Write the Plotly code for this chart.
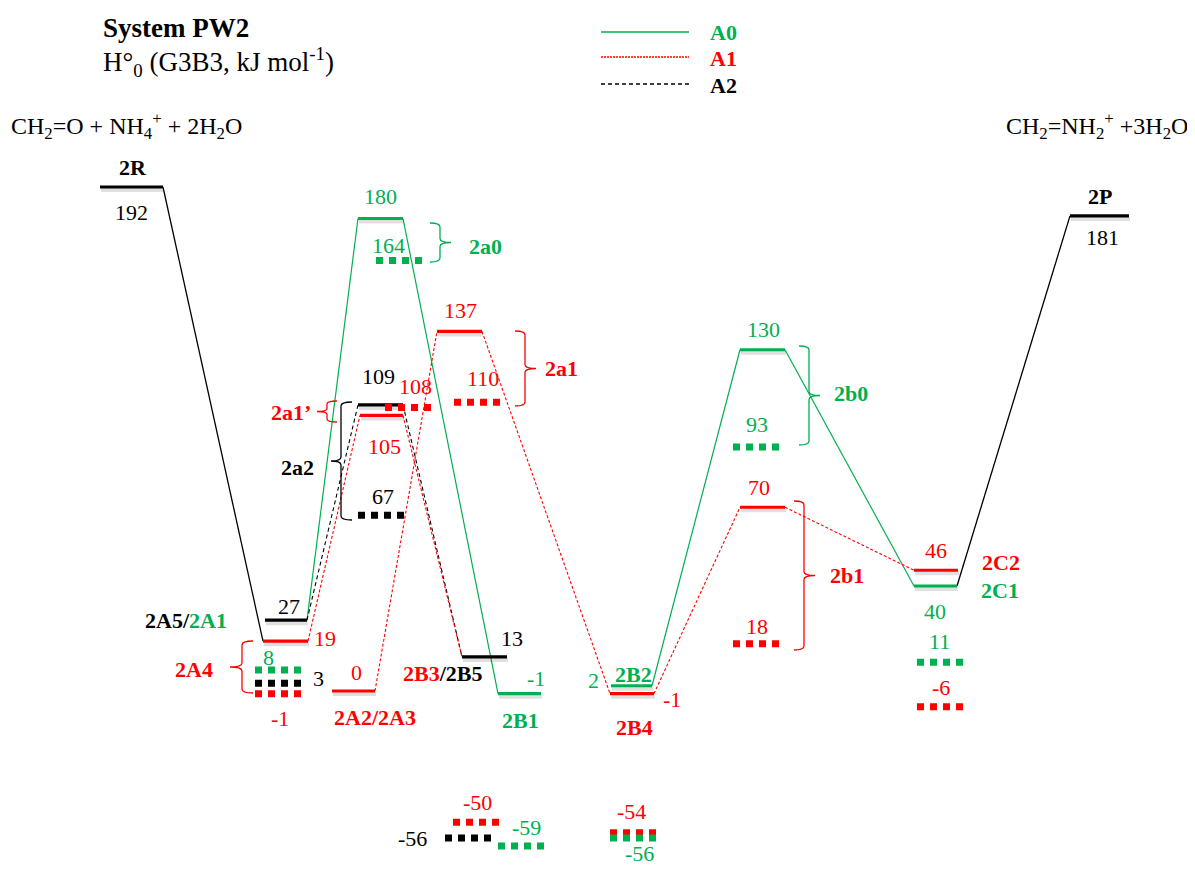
import plotly.graph_objects as go

GREEN = "#00B050"
RED = "#FF0000"
BLACK = "#000000"
FONT = "Liberation Serif, Times New Roman, DejaVu Serif, serif"
COLORS = {"A0": GREEN, "A1": RED, "A2": BLACK, "ref": BLACK}

# solid levels, H0 in kJ/mol
level_ids = ["2R", "2A5", "2A4", "2A2", "TSa0", "TSa2", "TSa1p", "TSa1", "2B3", "2B1",
             "2B2", "2B4", "TSb0", "TSb1", "2C2", "2C1", "2P"]
level_energy = [192, 27, 19, 0, 180, 109, 105, 137, 13, -1, 2, -1, 130, 70, 46, 40, 181]
level_series = ["ref", "A2", "A1", "A1", "A0", "A2", "A1", "A1", "A2", "A0",
                "A0", "A1", "A0", "A1", "A1", "A0", "ref"]

# dotted levels
dot_ids = ["d8", "d3", "dm1", "d164", "d108", "d67", "d110", "dm50", "dm56k", "dm59",
           "dm54", "dm56g", "d93", "d18", "d11", "dm6"]
dot_energy = [8, 3, -1, 164, 108, 67, 110, -50, -56, -59, -54, -56, 93, 18, 11, -6]
dot_series = ["A0", "A2", "A1", "A0", "A1", "A2", "A1", "A1", "A2", "A0",
              "A1", "A0", "A0", "A1", "A0", "A1"]

# reaction paths through the solid levels
path_a0 = [["2A5", "TSa0", "2B1"], ["2B2", "TSb0", "2C1"]]
path_a1 = [["2A4", "TSa1p", "2B3"], ["2A2", "TSa1", "2B4", "TSb1", "2C2"]]
path_a2 = [["2A5", "TSa2", "2B3"]]
path_ref = [["2R", "2A4"], ["2C1", "2P"]]

# ---- layout (horizontal spans in px, label offsets) ----
XSPAN = {
    "2R": (100, 163), "2A5": (265, 307), "2A4": (263, 308), "2A2": (332, 375),
    "TSa0": (358, 403), "TSa2": (358, 403), "TSa1p": (360, 403), "TSa1": (437, 482),
    "2B3": (462, 507), "2B1": (498, 541), "2B2": (611, 652), "2B4": (610, 654),
    "TSb0": (740, 785), "TSb1": (740, 785), "2C2": (914, 958), "2C1": (914, 957),
    "2P": (1070, 1129),
    "d8": (255, 301), "d3": (255, 301), "dm1": (255, 301), "d164": (376, 422),
    "d108": (385, 431), "d67": (358, 404), "d110": (454, 500), "dm50": (453, 499),
    "dm56k": (445, 491), "dm59": (498, 544), "dm54": (610, 656), "dm56g": (610, 656),
    "d93": (733, 779), "d18": (733, 779), "d11": (917, 963), "dm6": (917, 963),
}
# number label: (x centre px, vertical offset px, + = below)
NUMPOS = {
    "2R": (131, 25), "2A5": (289, -14), "2A4": (325, -3), "2A2": (356, -19),
    "TSa0": (380, -22), "TSa2": (378, -28), "TSa1p": (384, 31), "TSa1": (460, -21),
    "2B3": (512, -18), "2B1": (536, -15), "2B2": (593, -5), "2B4": (672, 6),
    "TSb0": (763, -20), "TSb1": (759, -20), "2C2": (936, -20), "2C1": (935, 25),
    "2P": (1102, 22),
    "d8": (268, -13), "d3": (318, -5), "dm1": (280, 25), "d164": (388, -15),
    "d108": (415, -21), "d67": (383, -19), "d110": (483, -24), "dm50": (477, -20),
    "dm56k": (412, 0), "dm59": (526, -18), "dm54": (631, -21), "dm56g": (639, 15),
    "d93": (757, -22), "d18": (757, -17), "d11": (939, -21), "dm6": (941, -19),
}

Y0PX, PXPER = 691.0, 2.625   # pixel row of 0 kJ/mol, px per kJ/mol
PAGE_OFF = 8                  # default body margin of the html page


def ey(py):
    return (Y0PX - py) / PXPER


E = dict(zip(level_ids, level_energy))

fig = go.Figure()


def add_paths(paths, color, dash, width):
    for p in paths:
        xs, ys = [], []
        for a, b in zip(p[:-1], p[1:]):
            xs += [XSPAN[a][1], XSPAN[b][0], None]
            ys += [E[a], E[b], None]
        fig.add_trace(go.Scatter(x=xs, y=ys, mode="lines", hoverinfo="skip",
                                 line=dict(color=color, dash=dash, width=width)))


add_paths(path_ref, BLACK, "solid", 1.3)
add_paths(path_a0, GREEN, "solid", 1.2)
add_paths(path_a2, BLACK, "4px,3px", 1.1)
add_paths(path_a1, RED, "3px,2px", 1.1)

# solid levels with faint shadow
for lid, en, s in zip(level_ids, level_energy, level_series):
    x0, x1 = XSPAN[lid]
    sh = en - 3 / PXPER
    fig.add_trace(go.Scatter(x=[x0 + 1, x1 + 1], y=[sh, sh], mode="lines", hoverinfo="skip",
                             line=dict(color="rgba(0,0,0,0.12)", width=4)))
    fig.add_trace(go.Scatter(x=[x0, x1], y=[en, en], mode="lines", hoverinfo="skip",
                             line=dict(color=COLORS[s], width=3.2)))

# dotted levels (square dots)
for did, en, s in zip(dot_ids, dot_energy, dot_series):
    x0, x1 = XSPAN[did]
    fig.add_trace(go.Scatter(x=[x0, x1], y=[en, en], mode="lines", hoverinfo="skip",
                             line=dict(color=COLORS[s], width=7, dash="7px,6px")))

ann = []


def txt(text, x, y, color=BLACK, size=22, bold=False, xanchor="center", yshift=0):
    if bold:
        text = "<b>" + text + "</b>"
    ann.append(dict(text=text, x=x, y=y, xref="x", yref="y", showarrow=False,
                    xanchor=xanchor, yanchor="middle", yshift=yshift,
                    font=dict(family=FONT, size=size, color=color)))


# numeric labels
for lid, en, s in zip(level_ids, level_energy, level_series):
    x, dy = NUMPOS[lid]
    txt(str(en), x, en, COLORS[s], yshift=-dy)
for did, en, s in zip(dot_ids, dot_energy, dot_series):
    x, dy = NUMPOS[did]
    txt(str(en), x, en, COLORS[s], yshift=-dy)


def g(t):
    return "<span style='color:%s'>%s</span>" % (GREEN, t)


def r(t):
    return "<span style='color:%s'>%s</span>" % (RED, t)


# structure labels (beside their levels)
txt("2R", 133, E["2R"], bold=True, yshift=20)
txt("2P", 1100, E["2P"], bold=True, yshift=19)
txt("2C2", 1001, E["2C2"], RED, bold=True, yshift=8)
txt("2C1", 1000, E["2C1"], GREEN, bold=True, yshift=-4)
txt("2A5/" + g("2A1"), 186, ey(620), bold=True)
txt("2A4", 194, ey(669), RED, bold=True)
txt("2A2/2A3", 375, ey(717), RED, bold=True)
txt("2a0", 485, ey(246), GREEN, bold=True)
txt("2a1", 561, ey(368), RED, bold=True)
txt("2a1’", 291, ey(412), RED, bold=True)
txt("2a2", 297, ey(467), bold=True)
txt(r("2B3") + "/2B5", 442, ey(673), bold=True)
txt("2B1", 520, ey(720), GREEN, bold=True)
txt("2B2", 633, ey(674), GREEN, bold=True)
txt("2B4", 634, ey(727), RED, bold=True)
txt("2b0", 851, ey(393), GREEN, bold=True)
txt("2b1", 847, ey(575), RED, bold=True)

# titles & species
txt("System PW2", 101, ey(28), size=27, bold=True, xanchor="left")
txt("H°<sub>0</sub> (G3B3, kJ mol<sup>-1</sup>)", 101, ey(62), size=27, xanchor="left")
txt("CH<sub>2</sub>=O + NH<sub>4</sub><sup>+</sup> + 2H<sub>2</sub>O", 9, ey(126),
    size=24, xanchor="left")
txt("CH<sub>2</sub>=NH<sub>2</sub><sup>+</sup> +3H<sub>2</sub>O", 1004, ey(126),
    size=24, xanchor="left")

# legend
txt("A0", 708, ey(32), GREEN, bold=True, xanchor="left")
txt("A1", 708, ey(58), RED, bold=True, xanchor="left")
txt("A2", 708, ey(85), BLACK, bold=True, xanchor="left")

shapes = []
for py, col, dash, w in [(32, GREEN, "solid", 1.5), (57, RED, "2px,1px", 1.3),
                         (84, BLACK, "4px,3px", 1.3)]:
    shapes.append(dict(type="line", xref="x", yref="y", x0=601, x1=689, y0=ey(py), y1=ey(py),
                       line=dict(color=col, width=w, dash=dash)))


def brace(x, py0, py1, side, color, h=10, t=11, rr=4):
    pm = (py0 + py1) / 2
    pts = [
        ("M", (x - side * h, py0)),
        ("Q", (x, py0), (x, py0 + rr)),
        ("L", (x, pm - rr)),
        ("Q", (x, pm), (x + side * t, pm)),
        ("Q", (x, pm), (x, pm + rr)),
        ("L", (x, py1 - rr)),
        ("Q", (x, py1), (x - side * h, py1)),
    ]
    d = ""
    for seg in pts:
        d += seg[0] + " " + " ".join("%.2f,%.3f" % (px, ey(py)) for px, py in seg[1:]) + " "
    shapes.append(dict(type="path", xref="x", yref="y", path=d.strip(),
                       line=dict(color=color, width=1.3)))


brace(440, 223, 262, 1, GREEN)
brace(525, 331, 406, 1, RED)
brace(809, 346, 445, 1, GREEN)
brace(804, 501, 650, 1, RED)
brace(327, 401, 422, -1, RED, h=10, t=10, rr=3)
brace(341, 402, 520, -1, BLACK, h=11, t=10)
brace(242, 641, 693, -1, RED, h=11, t=12)

W, H = 1195, 872
fig.update_layout(
    width=W - 2 * PAGE_OFF, height=H - 2 * PAGE_OFF,
    margin=dict(l=0, r=0, t=0, b=0),
    paper_bgcolor="white", plot_bgcolor="white",
    showlegend=False,
    xaxis=dict(range=[PAGE_OFF, W - PAGE_OFF], visible=False, fixedrange=True),
    yaxis=dict(range=[ey(H - PAGE_OFF), ey(PAGE_OFF)], visible=False, fixedrange=True),
    annotations=ann, shapes=shapes,
)

fig.write_html("out.html")
